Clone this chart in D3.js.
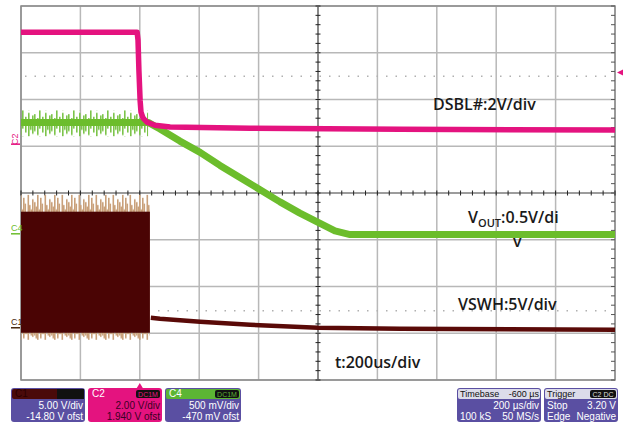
<!DOCTYPE html>
<html>
<head>
<meta charset="utf-8">
<script src="https://cdn.jsdelivr.net/npm/d3@7"></script>
<style>
  body { margin: 0; background: #fff; }
  svg { display: block; }
</style>
</head>
<body>
<div id="scope"></div>
<script>
// time in µs relative to trigger, values in volts
const dsblT = [-400, -9, -6, -3, 1, 4, 11, 24, 51, 102, 371, 876, 1600];
const dsblV = [4.62, 4.62, 4.28, 2.99, 1.71, 1.20, 0.94, 0.77, 0.64, 0.56, 0.51, 0.47, 0.43];

const voutT = [-400, 28, 68, 135, 203, 270, 337, 405, 472, 539, 607, 657, 708, 1600];
const voutV = [1.17, 1.17, 1.10, 0.97, 0.85, 0.71, 0.58, 0.45, 0.32, 0.20, 0.09, 0.01, -0.03, -0.03];
const voutNoise = {t: [-400, 28], hi: 1.30, lo: 1.02};

const swhT = [37, 68, 203, 371, 600, 876, 1600];
const swhV = [0.86, 0.75, 0.43, 0.11, -0.21, -0.32, -0.43];
const swhBurst = {t: [-400, 34], hi: 12.2, lo: -0.75, peak: 14.0, dip: -1.5};

const channels = [
  {id: 'C1', vdiv: 5, zeroDiv: -2.84, color: '#4a0404'},
  {id: 'C2', vdiv: 2, zeroDiv: 1.13, color: '#e4137f'},
  {id: 'C4', vdiv: 0.5, zeroDiv: -0.83, color: '#6cbd2c'}
];

const notes = [
  {text: 'DSBL#:2V/div', x: 433, y: 110},
  {text: 'VSWH:5V/div', x: 458, y: 310},
  {text: 't:200us/div', x: 335, y: 368}
];

const W = 623, H = 424;
const pL = 21, pR = 615, pT = 6, pB = 380;

const svg = d3.select('#scope').append('svg').attr('width', W).attr('height', H)
  .style('font-family', 'Liberation Sans, Arial, sans-serif');

const x = d3.scaleLinear().domain([-400, 1600]).range([pL, pR]);
const yDiv = d3.scaleLinear().domain([-4, 4]).range([pB, pT]);
const chY = ch => (v => yDiv(v / ch.vdiv + ch.zeroDiv));
const [c1, c2, c4] = channels;
const y1 = chY(c1), y2 = chY(c2), y4 = chY(c4);

// grid
const grid = svg.append('g');
d3.range(-400, 1601, 200).forEach(t => {
  grid.append('line').attr('x1', x(t)).attr('x2', x(t)).attr('y1', pT).attr('y2', pB)
    .attr('stroke', t === 600 ? '#3a3a3a' : '#b8b8b8').attr('stroke-width', t === 600 ? 1.2 : 1.5);
});
d3.range(-4, 5).forEach(d => {
  grid.append('line').attr('x1', pL).attr('x2', pR).attr('y1', yDiv(d)).attr('y2', yDiv(d))
    .attr('stroke', d === 0 ? '#3a3a3a' : '#b8b8b8').attr('stroke-width', d === 0 ? 1.2 : 1.5);
});
grid.append('rect').attr('x', pL).attr('y', pT).attr('width', pR - pL).attr('height', pB - pT)
  .attr('fill', 'none').attr('stroke', '#8a8a8a').attr('stroke-width', 1.5);

// minor ticks on centre cross and right border
d3.range(-400, 1601, 40).forEach(t => {
  grid.append('line').attr('x1', x(t)).attr('x2', x(t)).attr('y1', yDiv(0) - 2.5).attr('y2', yDiv(0) + 2.5)
    .attr('stroke', '#222').attr('stroke-width', 1);
});
d3.range(-4, 4.01, 0.2).forEach(d => {
  grid.append('line').attr('x1', x(600) - 2.5).attr('x2', x(600) + 2.5).attr('y1', yDiv(d)).attr('y2', yDiv(d))
    .attr('stroke', '#222').attr('stroke-width', 1);
  grid.append('line').attr('x1', pR - 4).attr('x2', pR).attr('y1', yDiv(d)).attr('y2', yDiv(d))
    .attr('stroke', '#555').attr('stroke-width', 1);
});

// dotted reference levels
[yDiv(2.5), yDiv(-2.52)].forEach(yy => {
  grid.append('line').attr('x1', pL + 4).attr('x2', pR - 4).attr('y1', yy).attr('y2', yy)
    .attr('stroke', '#b0b0b0').attr('stroke-width', 1.5).attr('stroke-dasharray', '1.5 8');
});

// texture patterns for the noisy fringes (styling only)
const defs = svg.append('defs');
const fringe = (id, y0, h, color, bars) => {
  const p = defs.append('pattern').attr('id', id).attr('patternUnits', 'userSpaceOnUse')
    .attr('x', 0).attr('y', y0).attr('width', 17).attr('height', h);
  bars.forEach(([bx, a, b]) => p.append('rect').attr('x', bx).attr('width', 1.6)
    .attr('y', a * h).attr('height', (b - a) * h).attr('fill', color));
};
const tanBars = [[0, 0.05, 0.97], [1.5, 0.08, 0.99], [3, 0.0, 1], [4.5, 0.1, 0.95], [6, 0.02, 0.99], [7.5, 0.06, 0.96], [9, 0.12, 0.96], [10.5, 0.0, 1], [12, 0.07, 0.93], [13.5, 0.1, 0.97], [15, 0.03, 0.98]];
const grnBars = [[0, 0.15, 0.8], [3, 0.3, 0.95], [5, 0.0, 0.7], [8, 0.25, 0.85], [11, 0.1, 1], [13, 0.35, 0.75], [15, 0.2, 0.9]];
fringe('tan', y1(swhBurst.peak), y1(swhBurst.dip) - y1(swhBurst.peak), '#c9a07a', tanBars);
fringe('grn', y4(voutNoise.hi), y4(voutNoise.lo) - y4(voutNoise.hi), '#7cc44a', grnBars);

// C1 switching burst
const burst = svg.append('g');
burst.append('rect').attr('x', x(swhBurst.t[0])).attr('width', x(swhBurst.t[1]) - x(swhBurst.t[0]))
  .attr('y', y1(swhBurst.peak)).attr('height', y1(swhBurst.dip) - y1(swhBurst.peak)).attr('fill', 'url(#tan)');
burst.append('rect').attr('x', x(swhBurst.t[0])).attr('width', x(swhBurst.t[1]) - x(swhBurst.t[0]))
  .attr('y', y1(swhBurst.hi)).attr('height', y1(swhBurst.lo) - y1(swhBurst.hi)).attr('fill', c1.color);

const line = (ts, vs, yf) => d3.line().x((d, i) => x(ts[i])).y(d => yf(d))(vs);

svg.append('path').attr('d', line(swhT, swhV, y1)).attr('fill', 'none')
  .attr('stroke', '#5a0a08').attr('stroke-width', 4.5);

// C4 vout
svg.append('rect').attr('x', x(voutNoise.t[0])).attr('width', x(voutNoise.t[1]) - x(voutNoise.t[0]))
  .attr('y', y4(voutNoise.hi)).attr('height', y4(voutNoise.lo) - y4(voutNoise.hi)).attr('fill', 'url(#grn)');
svg.append('path').attr('d', line(voutT, voutV, y4)).attr('fill', 'none')
  .attr('stroke', c4.color).attr('stroke-width', 7).attr('stroke-linejoin', 'round');

// C2 dsbl
svg.append('path').attr('d', line(dsblT, dsblV, y2)).attr('fill', 'none')
  .attr('stroke', c2.color).attr('stroke-width', 5.5).attr('stroke-linejoin', 'round');

// channel markers
const mk = svg.append('g').style('font-size', '9px');
mk.append('text').attr('transform', `translate(18,${y2(0) - 1}) rotate(-90)`).attr('text-anchor', 'middle')
  .attr('fill', c2.color).text('C2');
mk.append('line').attr('x1', 11).attr('x2', 20).attr('y1', y2(0) + 4).attr('y2', y2(0) + 4).attr('stroke', c2.color).attr('stroke-width', 1.5);
[[c4, y4, '#6cbd2c'], [c1, y1, '#4a2a10']].forEach(([c, yf, col]) => {
  mk.append('text').attr('x', 11).attr('y', yf(0) - 1).attr('fill', col).text(c.id);
  mk.append('line').attr('x1', 11).attr('x2', 20).attr('y1', yf(0) + 2).attr('y2', yf(0) + 2)
    .attr('stroke', col).attr('stroke-width', 1.5);
});

// trigger markers
svg.append('path').attr('d', `M${pR + 2},${yDiv(2.58)} l6,-3 v6 z`).attr('fill', c2.color);
svg.append('path').attr('d', `M${x(0) - 3},${pB + 8} l3,-5 l3,5 z`).attr('fill', c2.color);

// annotations
const ann = svg.append('g').style('font-family', 'Open Sans, sans-serif').style('font-weight', 600)
  .style('font-size', '16px').attr('fill', '#1a1a1a');
notes.forEach(n => ann.append('text').attr('x', n.x).attr('y', n.y).text(n.text));
const vo = ann.append('text').attr('x', 468).attr('y', 223);
vo.append('tspan').text('V');
vo.append('tspan').attr('dy', 4).style('font-size', '11px').text('OUT');
vo.append('tspan').attr('dy', -4).text(':0.5V/di');
ann.append('text').attr('x', 513).attr('y', 247).text('v');

// info boxes
const purple = '#5a4fa2';
const boxes = [
  {x: 11, w: 74, head: '#4a0a0a', headText: 'C1', headColor: '#2a0000', badge: '', body: purple, lines: ['5.00 V/div', '-14.80 V ofst'], txt: '#fff'},
  {x: 88, w: 74, head: '#e4137f', headText: 'C2', headColor: '#fff', badge: 'DC1M', badgeText: '#e4137f', body: '#e4137f', lines: ['2.00 V/div', '1.940 V ofst'], txt: '#3a0024'},
  {x: 165, w: 76, head: '#5cb534', headText: 'C4', headColor: '#fff', badge: 'DC1M', badgeText: '#5cb534', body: purple, lines: ['500 mV/div', '-470 mV ofst'], txt: '#fff'}
];
const by = 388, bh = 34, hh = 10;
boxes.forEach(b => {
  const g = svg.append('g').style('font-size', '10px');
  g.append('rect').attr('x', b.x).attr('y', by).attr('width', b.w).attr('height', bh).attr('rx', 3).attr('fill', b.body);
  g.append('rect').attr('x', b.x + 1).attr('y', by + 1).attr('width', b.w - 2).attr('height', hh).attr('rx', 2).attr('fill', b.head);
  if (b.badge) {
    g.append('rect').attr('x', b.x + b.w - 26).attr('y', by + 2).attr('width', 24).attr('height', hh - 2).attr('rx', 2).attr('fill', '#111');
    g.append('text').attr('x', b.x + b.w - 14).attr('y', by + 9).attr('text-anchor', 'middle').style('font-size', '7px')
      .attr('fill', b.badgeText).text(b.badge);
  } else {
    g.append('rect').attr('x', b.x + b.w - 28).attr('y', by + 1).attr('width', 27).attr('height', hh).attr('fill', '#111');
  }
  g.append('text').attr('x', b.x + 4).attr('y', by + 9).attr('fill', b.headColor).text(b.headText);
  b.lines.forEach((l, i) => g.append('text').attr('x', b.x + b.w - 2).attr('y', by + 21 + i * 11)
    .attr('text-anchor', 'end').attr('fill', b.txt).text(l));
});

const tb = svg.append('g').style('font-size', '10px');
tb.append('rect').attr('x', 457).attr('y', by).attr('width', 84).attr('height', bh).attr('rx', 3).attr('fill', purple);
tb.append('rect').attr('x', 458).attr('y', by + 1).attr('width', 82).attr('height', hh).attr('rx', 2).attr('fill', '#dcdcea');
tb.append('text').attr('x', 460).attr('y', by + 9).style('font-size', '9px').attr('fill', '#111').text('Timebase');
tb.append('text').attr('x', 539).attr('y', by + 9).style('font-size', '9px').attr('text-anchor', 'end').attr('fill', '#111').text('-600 µs');
tb.append('text').attr('x', 539).attr('y', by + 21).attr('text-anchor', 'end').attr('fill', '#fff').text('200 µs/div');
tb.append('text').attr('x', 460).attr('y', by + 32).attr('fill', '#fff').text('100 kS');
tb.append('text').attr('x', 539).attr('y', by + 32).attr('text-anchor', 'end').attr('fill', '#fff').text('50 MS/s');

const tr = svg.append('g').style('font-size', '10px');
tr.append('rect').attr('x', 544).attr('y', by).attr('width', 74).attr('height', bh).attr('rx', 3).attr('fill', purple);
tr.append('rect').attr('x', 545).attr('y', by + 1).attr('width', 72).attr('height', hh).attr('rx', 2).attr('fill', '#dcdcea');
tr.append('rect').attr('x', 590).attr('y', by + 2).attr('width', 26).attr('height', hh - 2).attr('rx', 2).attr('fill', '#111');
tr.append('text').attr('x', 603).attr('y', by + 9).attr('text-anchor', 'middle').style('font-size', '7px').attr('fill', '#ddd').text('C2 DC');
tr.append('text').attr('x', 547).attr('y', by + 9).style('font-size', '9px').attr('fill', '#111').text('Trigger');
tr.append('text').attr('x', 547).attr('y', by + 21).attr('fill', '#fff').text('Stop');
tr.append('text').attr('x', 616).attr('y', by + 21).attr('text-anchor', 'end').attr('fill', '#fff').text('3.20 V');
tr.append('text').attr('x', 547).attr('y', by + 32).attr('fill', '#fff').text('Edge');
tr.append('text').attr('x', 616).attr('y', by + 32).attr('text-anchor', 'end').attr('fill', '#fff').text('Negative');
</script>
</body>
</html>
